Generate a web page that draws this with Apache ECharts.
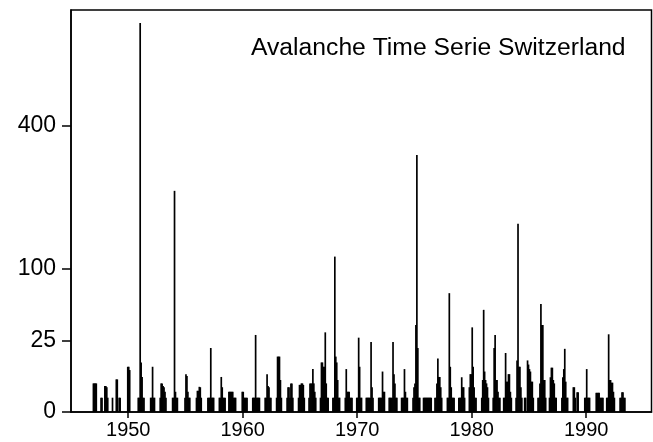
<!DOCTYPE html>
<html>
<head>
<meta charset="utf-8">
<title>Avalanche Time Serie Switzerland</title>
<script src="https://cdn.jsdelivr.net/npm/echarts@6/dist/echarts.min.js"></script>
<style>
  html, body { margin: 0; padding: 0; background: #fff; }
  #main { width: 653px; height: 442px; }
</style>
</head>
<body>
<div id="main"></div>
<script>
// first month of each winter season (YYYY-MM) and the monthly avalanche counts from that month on
var seasonStart = [
  '1946-12', '1947-08', '1948-08', '1949-12', '1950-11', '1951-12', '1952-10', '1953-11',
  '1954-12', '1955-12', '1956-12', '1957-12', '1958-10', '1959-12', '1960-11', '1961-12',
  '1962-12', '1963-11', '1964-11', '1965-10', '1966-10', '1967-11', '1968-12', '1969-12',
  '1970-10', '1971-11', '1972-10', '1973-11', '1974-11', '1975-10', '1976-10', '1977-11',
  '1978-11', '1979-10', '1980-11', '1981-11', '1982-10', '1983-11', '1984-08', '1985-10',
  '1986-10', '1987-11', '1988-11', '1989-11', '1990-11', '1991-10', '1992-12'
];
var seasonCounts = [
  [4, 4, 4, 4],
  [1, 1, 0, 0, 3.3, 3.3, 3, 1],
  [1, 0, 0, 0, 5.2, 5.2, 0, 1, 1],
  [10, 10, 8.6],
  [1, 1, 739, 12, 6, 1, 1],
  [1, 1, 10, 1, 1],
  [1, 4, 4, 3.3, 3, 2, 1],
  [1, 1, 239, 2, 1, 1],
  [1, 7, 6.3, 2, 1, 1],
  [1, 2.2, 2.2, 3.1, 3, 1],
  [1, 1, 1, 20, 1, 1, 1],
  [1, 1, 6, 3, 1, 1, 1],
  [2, 2, 2, 2, 2, 1, 1, 1],
  [2, 2, 1, 1, 1, 1],
  [1, 1, 1, 29, 1, 1, 1, 1],
  [1, 1, 7, 3.3, 3, 1, 1],
  [1, 15, 15, 15, 5, 1],
  [1, 3, 3, 1, 4, 4, 1],
  [1, 3.6, 3.6, 4, 4, 3.6, 1],
  [1, 4, 4, 4, 9, 4, 2, 1],
  [1, 12, 12, 10, 10, 31, 4, 1, 1],
  [1, 1, 118, 15, 12, 5, 1, 1],
  [1, 9, 2, 2, 2, 1, 1, 1],
  [1, 1, 27, 10, 1, 1],
  [1, 1, 1, 1, 1, 24, 3, 1],
  [1, 1, 1, 1, 8, 2, 2],
  [1, 1, 1, 1, 24, 7, 4, 1, 1],
  [1, 1, 1, 9, 2, 1, 1],
  [1, 3, 4, 37, 323, 20, 1, 1],
  [1, 1, 1, 1, 1, 1, 1, 1, 1],
  [1, 1, 4, 14, 6, 6, 3, 1],
  [1, 1, 69, 10, 3, 1, 1, 1],
  [1, 1, 1, 5.9, 3, 3, 1],
  [3, 7, 7, 35, 10, 3, 1, 1],
  [1, 5, 51, 8, 5, 4, 3, 1],
  [1, 20, 29, 5, 5, 2, 1, 1],
  [1, 1, 17, 4.5, 4.5, 7, 7, 2, 1],
  [1, 13, 173, 10, 10, 3, 1],
  [1, 1, 0, 13, 11, 9, 8, 4.5, 4.5, 1],
  [1, 1, 4, 57, 37, 37, 5, 5, 1],
  [1, 5.9, 9.6, 9.6, 5, 4, 1, 1],
  [1, 5.9, 9, 19.5, 4.5, 1, 1],
  [3, 3, 1, 0, 1.9, 1.9],
  [1, 1, 9, 1, 1, 1],
  [1.8, 1.8, 1.8, 1.8, 1, 1, 1, 1],
  [1, 1, 29.5, 5, 5, 4.2, 4.2, 2, 1],
  [1, 1, 1.9, 1.9, 1, 1]
];
var yearTicks = [1950, 1960, 1970, 1980, 1990];
var countTicks = [0, 25, 100, 400];

// square-root scale: plot sqrt(count), label ticks with the count
var points = [];
for (var s = 0; s < seasonStart.length; s++) {
  var parts = seasonStart[s].split('-');
  var y = parseInt(parts[0], 10);
  var m = parseInt(parts[1], 10);
  for (var k = 0; k < seasonCounts[s].length; k++) {
    var mm = m - 1 + k;
    var yy = y + Math.floor(mm / 12);
    mm = mm % 12;
    var v = seasonCounts[s][k];
    if (v > 0) points.push([yy + (mm + 0.5) / 12, Math.sqrt(v)]);
  }
}

var chart = echarts.init(document.getElementById('main'));
var font = 'Liberation Sans, Arial, Helvetica, sans-serif';
chart.setOption({
  animation: false,
  backgroundColor: '#fff',
  title: {
    text: 'Avalanche Time Serie Switzerland',
    left: 246,
    top: 31,
    textStyle: { fontFamily: font, fontSize: 24.7, fontWeight: 'normal', color: '#000' }
  },
  grid: {
    left: 71, right: 1.5, top: 10, bottom: 30,
    show: true, borderColor: '#000', borderWidth: 1.5
  },
  xAxis: {
    type: 'value',
    min: 1945,
    max: 1995.7,
    axisLine: { show: true, onZero: false, lineStyle: { color: '#000', width: 1.5 } },
    axisTick: { show: true, length: 6, customValues: yearTicks, lineStyle: { color: '#000', width: 1.5 } },
    axisLabel: {
      customValues: yearTicks, margin: 8,
      fontFamily: font, fontSize: 20, color: '#000',
      formatter: function (v) { return String(v); }
    },
    splitLine: { show: false }
  },
  yAxis: {
    type: 'value',
    min: 0,
    max: 28.1,
    axisLine: { show: true, lineStyle: { color: '#000', width: 1.5 } },
    axisTick: { show: true, length: 9, customValues: countTicks.map(Math.sqrt), lineStyle: { color: '#000', width: 1.5 } },
    axisLabel: {
      customValues: countTicks.map(Math.sqrt), margin: 15,
      fontFamily: font, fontSize: 23, color: '#000',
      formatter: function (v) { return String(Math.round(v * v)); }
    },
    splitLine: { show: false }
  },
  series: [{
    type: 'bar',
    data: points,
    barWidth: 1.7,
    itemStyle: { color: '#000' }
  }]
});
</script>
</body>
</html>
